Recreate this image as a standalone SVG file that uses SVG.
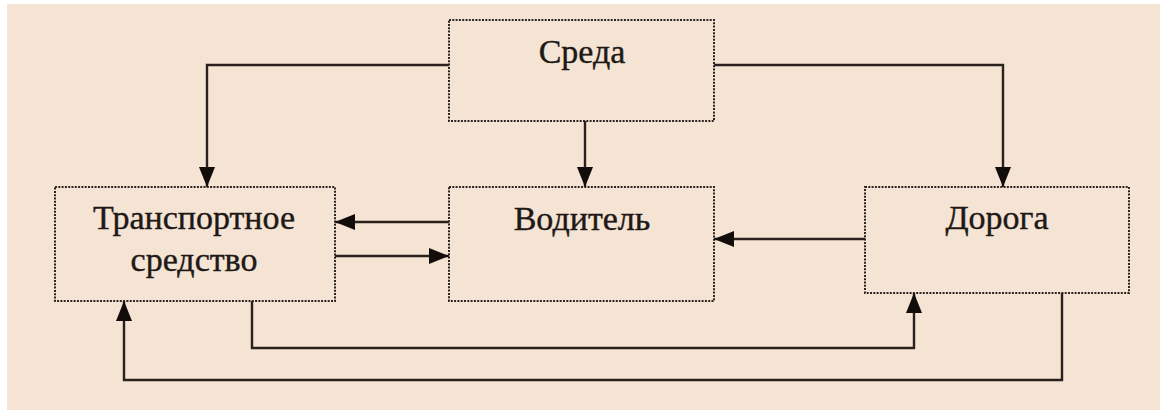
<svg xmlns="http://www.w3.org/2000/svg" width="1160" height="410" viewBox="0 0 1160 410">
  <style>
    .box { fill: #F5E4D3; stroke: #2a2422; stroke-width: 2; stroke-dasharray: 2 1.3; }
    .lbl { font-family: "Liberation Serif", "Times New Roman", serif; font-size: 34px; fill: #1e1917; stroke: #1e1917; stroke-width: 0.4; text-anchor: middle; }
    .conn { fill: none; stroke: #2a211e; stroke-width: 2.4; }
  </style>
  <defs>
    <marker id="arr" viewBox="0 0 20 16" refX="20" refY="8" markerWidth="20" markerHeight="16" markerUnits="userSpaceOnUse" orient="auto">
      <path d="M0,0 L20,8 L0,16 Z" fill="#120d0b"/>
    </marker>
  </defs>
  <rect x="0" y="0" width="1160" height="410" fill="#ffffff"/>
  <rect x="7" y="4" width="1153" height="406" fill="#F5E4D3"/>

  <g id="node-sreda">
    <rect class="box" x="449" y="20" width="265" height="101"/>
    <text class="lbl" x="582" y="63">Среда</text>
  </g>
  <g id="node-transport">
    <rect class="box" x="55" y="187" width="280" height="114"/>
    <text class="lbl" x="194" y="229">Транспортное</text>
    <text class="lbl" x="194" y="271">средство</text>
  </g>
  <g id="node-voditel">
    <rect class="box" x="449" y="187" width="265" height="114"/>
    <text class="lbl" x="582" y="230">Водитель</text>
  </g>
  <g id="node-doroga">
    <rect class="box" x="865" y="187" width="264" height="106"/>
    <text class="lbl" x="997" y="229">Дорога</text>
  </g>

  <g id="connectors">
    <path class="conn" d="M449,65 H207 V187" marker-end="url(#arr)"/>
    <path class="conn" d="M714,65 H1003 V187" marker-end="url(#arr)"/>
    <path class="conn" d="M585,121 V187" marker-end="url(#arr)"/>
    <path class="conn" d="M449,222 H335" marker-end="url(#arr)"/>
    <path class="conn" d="M335,256 H449" marker-end="url(#arr)"/>
    <path class="conn" d="M865,239 H714" marker-end="url(#arr)"/>
    <path class="conn" d="M252,301 V348 H914 V293" marker-end="url(#arr)"/>
    <path class="conn" d="M1062,293 V380 H124 V301" marker-end="url(#arr)"/>
  </g>
</svg>
